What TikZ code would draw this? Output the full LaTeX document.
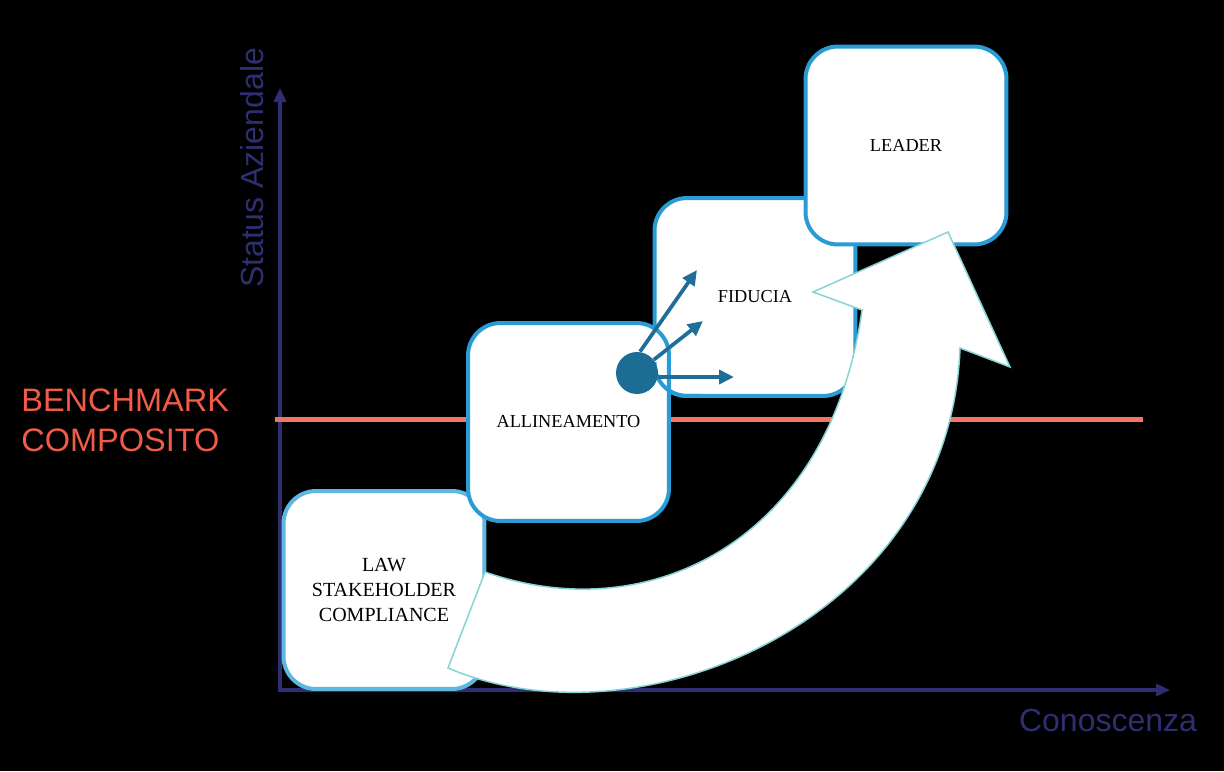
\documentclass[tikz,border=0pt]{standalone}
\usepackage{fontspec}
\setmainfont{Liberation Serif}
\newfontfamily\labelfont{Liberation Sans}
\usetikzlibrary{arrows.meta}
\definecolor{stageblue}{HTML}{2A9CD5}
\definecolor{lawblue}{HTML}{5DB7E3}
\definecolor{hubblue}{HTML}{1B6D96}
\definecolor{pushblue}{HTML}{1F6E99}
\definecolor{benchline}{HTML}{F27462}
\definecolor{benchtext}{HTML}{F15B47}
\definecolor{axisnavy}{HTML}{2F2E72}
\definecolor{growedge}{HTML}{86D3D6}

\begin{document}
\begin{tikzpicture}[
  x=0.02cm, y=-0.02cm,
  stage/.style={draw=stageblue,line width=0.08cm,rounded corners=0.65cm,fill=white,minimum width=4.02cm,minimum height=3.96cm,inner sep=0pt,outer sep=0pt,align=center,font=\fontsize{10.4}{13}\selectfont},
  axis/.style={-{Triangle[length=0.28cm,width=0.24cm]},line width=0.07cm,color=axisnavy},
  push/.style={-{Triangle[length=0.3cm,width=0.28cm]},line width=0.075cm,color=pushblue},
  axislabel/.style={font=\labelfont\fontsize{18.2}{22}\selectfont,text=axisnavy,inner sep=0pt},
  growarrow/.style={fill=white,draw=growedge,line width=0.03cm,line join=miter}
]
  % background and frame
  \fill[black] (0,0) rectangle (1224,771);
  \useasboundingbox (0,0) rectangle (1224,771);

  % axes
  \coordinate (orig) at (280,690);
  \coordinate (ytip) at (280,88);
  \coordinate (xtip) at (1170,690);
  \draw[axis] ([yshift=-0.035cm]orig) -- (ytip);
  \draw[axis] ([xshift=-0.035cm]orig) -- (xtip);

  % benchmark line
  \coordinate (benchL) at (275,419);
  \coordinate (benchR) at (1143,419);
  \draw[benchline,line width=0.1cm] (benchL) -- (benchR);

  % stages
  \node[stage,draw=lawblue,font=\fontsize{11.4}{14.5}\selectfont] (law) at (384,590) {LAW\\STAKEHOLDER\\COMPLIANCE};
  \node[stage] (fiducia) at (755,297) {FIDUCIA};
  \node[stage] (allin) at (568.5,422) {ALLINEAMENTO};
  \begin{scope}
    \clip (640,362) rectangle (700,402);
    \draw[stageblue,line width=0.08cm,rounded corners=0.65cm] (fiducia.south west) rectangle (fiducia.north east);
  \end{scope}
  \node[stage] (leader) at (906,145.5) {LEADER};

  % hub with pushes
  \node[circle,fill=hubblue,minimum size=0.84cm,inner sep=0pt] (hub) at (637,373) {};
  \coordinate (pushA) at (697,270);
  \coordinate (pushB) at (703,321);
  \coordinate (pushC) at (734,377);
  \draw[push] (hub.north) ++(3,0) -- (pushA);
  \draw[push] (hub) -- (pushB);
  \draw[push] (hub.east |- pushC) -- (pushC);

  % growth arrow
  \draw[growarrow] (485,572) .. controls (650,630) and (830,540) .. (862,310)
    -- (813,292) -- (948,232) -- (1010,367) -- (960,348)
    .. controls (950,620) and (640,750) .. (448,668) -- cycle;

  % labels
  \node[axislabel,rotate=90] (ylabel) at (252,168) {Status Aziendale};
  \node[axislabel] (xlabel) at (1108,720) {Conoscenza};
  \node[anchor=west,align=left,inner sep=0pt,text=benchtext,font=\labelfont\fontsize{18.5}{22.7}\selectfont] (bench) at (21,420) {BENCHMARK\\COMPOSITO};
\end{tikzpicture}
\end{document}
